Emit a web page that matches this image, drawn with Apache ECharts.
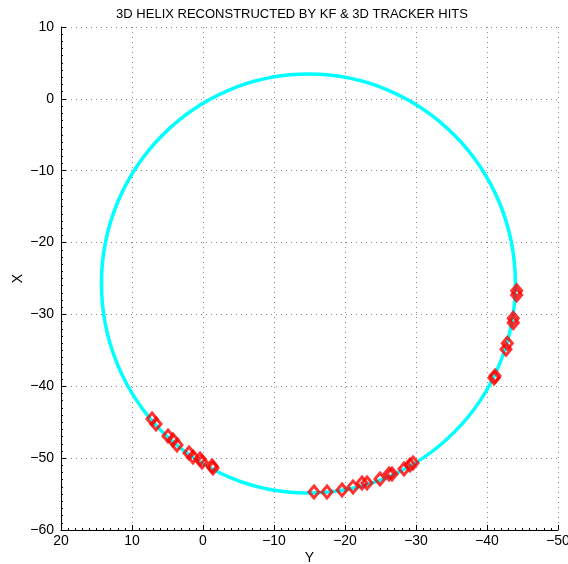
<!DOCTYPE html>
<html>
<head>
<meta charset="utf-8">
<script src="https://cdn.jsdelivr.net/npm/echarts@6/dist/echarts.min.js"></script>
<style>html,body{margin:0;padding:0;background:#fff}#c{width:568px;height:564px}</style>
</head>
<body>
<div id="c"></div>
<script>
// Helix projection (circle) parameters: [centerY, centerX, radius]
var helixCircle = [-14.85, -25.7, 29.15];

// Tracker hits: Y values (horizontal axis) and X values (vertical axis)
var hitY = [7.18, 6.62, 4.93, 4.23, 3.66, 1.97, 1.41, 0.42, 0.14, -1.27, -1.41,
            -15.63, -17.46, -19.58, -21.13, -22.39, -23.10, -24.93, -26.20, -26.62, -28.31, -29.15, -29.58,
            -40.99, -41.13, -42.68, -42.86, -43.70, -43.70, -44.18, -44.18];
var hitX = [-44.55, -45.25, -46.92, -47.47, -48.17, -49.28, -49.84, -50.12, -50.53, -51.09, -51.37,
            -54.71, -54.71, -54.43, -54.01, -53.46, -53.46, -52.90, -52.20, -52.20, -51.51, -50.95, -50.67,
            -38.84, -38.57, -34.85, -34.02, -31.15, -30.54, -27.29, -26.70];

var yAxisTicks = { min: -50, max: 20, interval: 10 };   // horizontal axis "Y"
var xAxisTicks = { min: -60, max: 10, interval: 10 };   // vertical axis "X"

var hits = hitY.map(function (y, i) { return [y, hitX[i]]; });

function fmt(v) { return String(v).replace('-', '\u2212'); }

var font = 'Liberation Sans, Arial, Helvetica, sans-serif';
var chart = echarts.init(document.getElementById('c'), null, { renderer: 'canvas' });
chart.setOption({
  backgroundColor: '#ffffff',
  animation: false,
  title: {
    text: '3D HELIX RECONSTRUCTED BY KF & 3D TRACKER HITS',
    left: 287, top: 3, textAlign: 'center',
    textStyle: { fontFamily: font, fontSize: 13, fontWeight: 'normal', color: '#000' }
  },
  grid: { left: 61, right: 10, top: 27, bottom: 34, containLabel: false, outerBoundsMode: 'none' },
  xAxis: {
    type: 'value', inverse: true,
    min: yAxisTicks.min, max: yAxisTicks.max, interval: yAxisTicks.interval,
    name: 'Y', nameLocation: 'middle', nameGap: 21, nameMoveOverlap: false,
    nameTextStyle: { fontFamily: font, fontSize: 14, color: '#000' },
    axisLine: { show: true, onZero: false, lineStyle: { color: '#000', width: 1 } },
    axisTick: { show: true, inside: true, length: 5, lineStyle: { color: '#000' } },
    minorTick: { show: true, splitNumber: 10, length: 2, lineStyle: { color: '#000' } },
    axisLabel: { fontFamily: font, fontSize: 14, color: '#000', margin: 4, formatter: fmt },
    splitLine: { show: true, lineStyle: { color: '#888', type: [1, 4], width: 1 } }
  },
  yAxis: {
    type: 'value',
    min: xAxisTicks.min, max: xAxisTicks.max, interval: xAxisTicks.interval,
    name: 'X', nameLocation: 'middle', nameGap: 36, nameMoveOverlap: false,
    nameTextStyle: { fontFamily: font, fontSize: 14, color: '#000' },
    axisLine: { show: true, onZero: false, lineStyle: { color: '#000', width: 1 } },
    axisTick: { show: true, inside: true, length: 5, lineStyle: { color: '#000' } },
    minorTick: { show: true, splitNumber: 10, length: 2, lineStyle: { color: '#000' } },
    axisLabel: { fontFamily: font, fontSize: 14, color: '#000', margin: 7, formatter: fmt },
    splitLine: { show: true, lineStyle: { color: '#888', type: [1, 4], width: 1 } }
  },
  series: [
    {
      type: 'custom', z: 2,
      data: [helixCircle],
      encode: { x: 0, y: 1 },
      renderItem: function (params, api) {
        var c = api.coord([api.value(0), api.value(1)]);
        var r = api.value(2);
        var s = api.size([r, r], [api.value(0), api.value(1)]);
        return {
          type: 'ellipse',
          shape: { cx: c[0], cy: c[1], rx: s[0], ry: s[1] },
          style: { fill: null, stroke: '#00ffff', lineWidth: 3.5 }
        };
      }
    },
    {
      type: 'scatter', z: 3,
      data: hits,
      symbol: 'diamond', symbolSize: [10, 12],
      itemStyle: { color: 'rgba(0,0,0,0)', borderColor: '#ff0000', borderWidth: 3 }
    }
  ]
});
</script>
</body>
</html>
